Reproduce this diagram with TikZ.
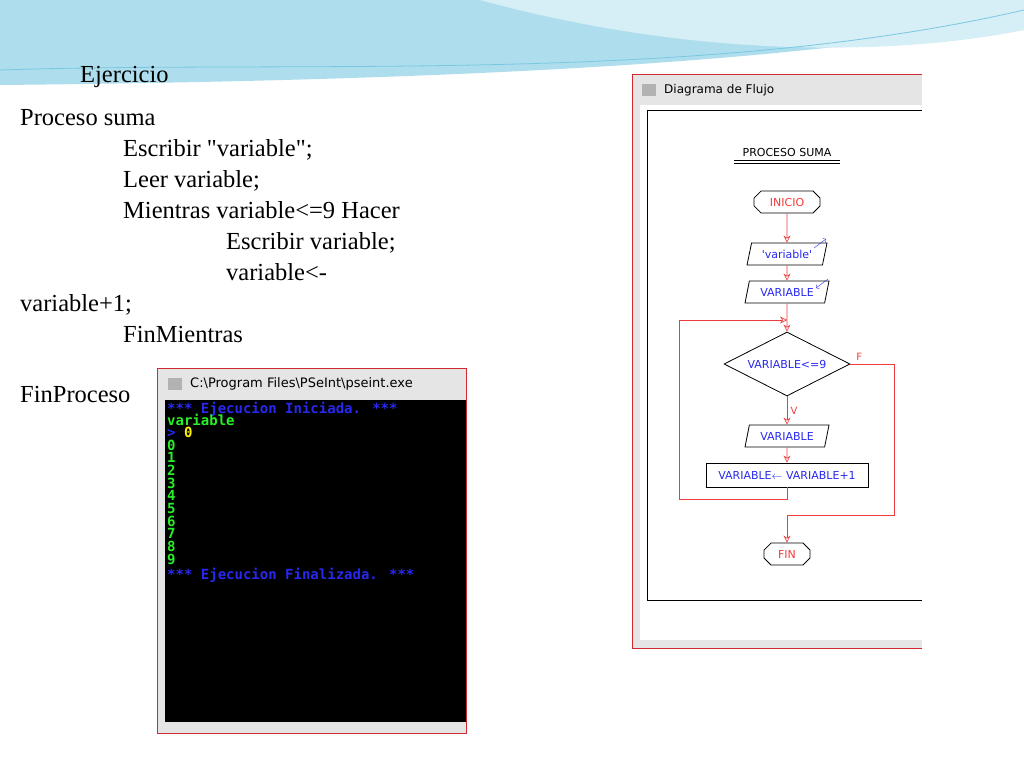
\documentclass[tikz,border=0pt]{standalone}
\usepackage{fontspec}
\setmainfont[Ligatures=TeXReset]{Liberation Serif}
\newfontfamily\guifont{DejaVu Sans}
\newfontfamily\consfont{DejaVu Sans Mono}
\usetikzlibrary{positioning,shapes.geometric,shapes.misc,calc,arrows.meta}
\definecolor{sky}{RGB}{120,200,225}
\definecolor{winred}{RGB}{210,40,50}
\definecolor{flowred}{RGB}{240,60,60}
\definecolor{conblue}{RGB}{40,40,240}
\definecolor{congreen}{RGB}{40,240,40}

\begin{document}
\begin{tikzpicture}[x=1pt,y=-1pt]
\tikzset{
  base/.style={draw, thick, align=center, font=\guifont\fontsize{11}{11}\selectfont},
  term/.style={base, chamfered rectangle, chamfered rectangle xsep=4pt, text=flowred, minimum width=66pt, minimum height=22pt, inner sep=2pt},
  io/.style={base, trapezium, trapezium left angle=70, trapezium right angle=110, text=conblue, minimum height=22pt, inner xsep=0pt, inner ysep=2pt, trapezium stretches body},
  cond/.style={base, diamond, aspect=2, text=conblue, minimum width=126pt, minimum height=64pt, inner sep=0pt},
  proc/.style={base, rectangle, text=conblue, minimum width=162pt, minimum height=24pt},
  flow/.style={draw=flowred, semithick, ->, >={Stealth[open,length=7pt,width=7pt]}},
  line/.style={anchor=base west, font=\fontsize{24.5}{24.5}\selectfont, inner sep=0pt},
  cons/.style={anchor=base west, font=\consfont\bfseries\fontsize{14}{14}\selectfont, inner sep=0pt},
}
\useasboundingbox (0,0) rectangle (1024,768);
% background swoosh
\fill[white] (0,0) rectangle (1024,768);
\fill[sky!60] (0,0) -- (1024,0) -- (1024,20) .. controls (800,60) and (500,80) .. (0,85) -- cycle;
\fill[sky!30] (480,0) -- (1024,0) -- (1024,30) .. controls (900,55) and (700,60) .. (480,0) -- cycle;
\draw[sky, thick] (0,70) .. controls (300,60) and (700,85) .. (1024,10);

% pseudocode
\node[line] (t0) at (80,82) {Ejercicio};
\node[line] (t1) at (20,125) {Proceso suma};
\node[line] (t2) at (123,156) {Escribir "variable";};
\node[line] (t3) at (123,187) {Leer variable;};
\node[line] (t4) at (123,218) {Mientras variable<=9 Hacer};
\node[line] (t5) at (226,249) {Escribir variable;};
\node[line] (t6) at (226,280) {variable<-};
\node[line] (t7) at (20,311) {variable+1;};
\node[line] (t8) at (123,342) {FinMientras};
\node[line] (t9) at (20,402) {FinProceso};

% console window
\fill[gray!20] (157,368) rectangle (466,733);
\draw[winred, thick] (157,368) rectangle (466,733);
\fill[black] (165,400) rectangle (466,722);
\fill[gray!60] (168,378) rectangle (182,390);
\node[anchor=west, font=\guifont\fontsize{13}{13}\selectfont, inner sep=0pt] (ctitle) at (190,384) {C:\textbackslash Program Files\textbackslash PSeInt\textbackslash pseint.exe};
\node[cons, text=conblue] (c0) at (167,413) {*** Ejecucion Iniciada. ***};
\node[cons, text=congreen] (c1) at (167,425) {variable};
\node[cons, text=conblue] (c2) at (167,437) {>};
\node[cons, text=yellow] (c3) at (184,437) {0};
\foreach \k in {0,...,9}{
  \node[cons, text=congreen] (n\k) at (167,{450+12.7*\k}) {\k};
}
\node[cons, text=conblue] (c4) at (167,579) {*** Ejecucion Finalizada. ***};

% flowchart window
\fill[gray!20] (632,74) rectangle (922,648);
\draw[winred, thick] (922,74) -- (632,74) -- (632,648) -- (922,648);
\fill[white] (640,105) rectangle (922,640);
\draw (647,110) -- (922,110) (647,110) -- (647,600) -- (922,600);
\fill[gray!60] (642,84) rectangle (656,96);
\node[anchor=west, font=\guifont\fontsize{12}{12}\selectfont, inner sep=0pt] (ftitle) at (664,90) {Diagrama de Flujo};

\node[base, draw=none, text=black] (head) at (787,152) {PROCESO SUMA};
\draw[thick] (734,160) -- (840,160) (734,163) -- (840,163);
\node[term] (ini) at (787,202) {INICIO};
\node[io, minimum width=80pt] (esc) at (787,254) {'variable'};
\node[io, minimum width=84pt] (lee) at (787,292) {VARIABLE};
\node[cond] (mie) at (787,364) {VARIABLE<=9};
\node[io, minimum width=84pt] (esc2) at (787,436) {VARIABLE};
\node[proc] (asig) at (787,475) {VARIABLE$\leftarrow$ VARIABLE+1};
\node[term, minimum width=46pt] (fin) at (787,554) {FIN};
\draw[conblue, ->] (814,248) -- (826,239);
\draw[conblue, ->] (828,279) -- (816,288);

\draw[flow] (ini) -- (esc);
\draw[flow] (esc) -- (lee);
\draw[flow] (lee) -- (mie);
\draw[flow] (mie) -- node[pos=0.5, right, text=flowred, font=\guifont\fontsize{10}{10}\selectfont] {V} (esc2);
\draw[flow] (esc2) -- (asig);
\draw[flow] (asig.south) -- ++(0,12) -| (679,320) -- (787,320);
\draw[flow] (mie.east) -- node[pos=0.2, above, text=flowred, font=\guifont\fontsize{10}{10}\selectfont] {F} (894,364) |- (787,515) -- (fin);
\end{tikzpicture}
\end{document}
